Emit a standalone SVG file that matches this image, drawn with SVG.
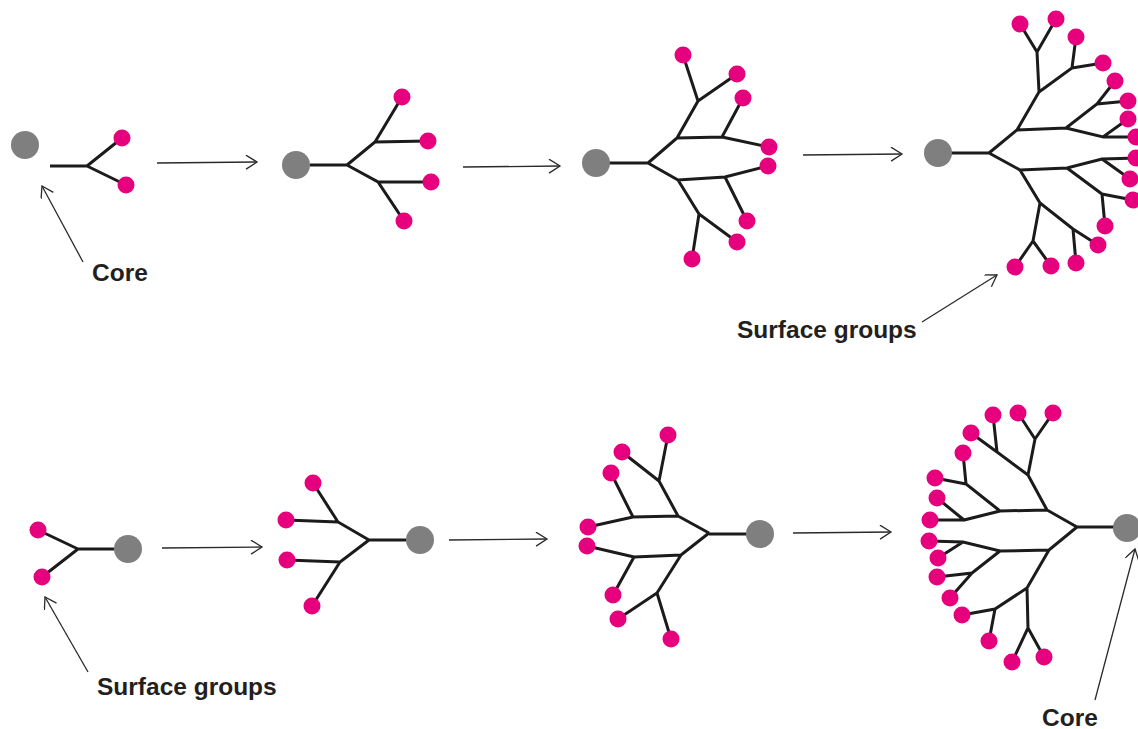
<svg xmlns="http://www.w3.org/2000/svg" width="1138" height="729" viewBox="0 0 1138 729">
  <style>
    .bond { fill: none; stroke: #1c1a1b; stroke-width: 3; stroke-linejoin: miter; stroke-linecap: butt; }
    .core { fill: #7f7f80; }
    .end { fill: #e6007e; }
    .arrow { fill: none; stroke: #2a2a2a; stroke-width: 1.3; marker-end: url(#head); }
    .label { font-family: "Liberation Sans", Arial, Helvetica, sans-serif; font-weight: bold; font-size: 24.5px; fill: #231f20; }
  </style>
  <defs>
    <marker id="head" markerUnits="userSpaceOnUse" markerWidth="16" markerHeight="16" refX="12" refY="7" orient="auto">
      <path d="M1,0 L12,7 L1,14" fill="none" stroke="#2a2a2a" stroke-width="1.3"/>
    </marker>
  </defs>
  <rect width="1138" height="729" fill="#ffffff"/>

  <!-- divergent growth: core outward -->
  <g id="divergent-g1">
    <path class="bond" d="M50,166 H87 M87,166 L122,138 M87,166 L126,185"/>
    <circle class="core" cx="25" cy="145" r="14"/>
    <circle class="end" cx="122" cy="138" r="8.5"/>
    <circle class="end" cx="126" cy="185" r="8.5"/>
  </g>

  <g id="divergent-g2">
    <path class="bond" d="M310,165 H347 M347,165 L375,142 L402,97 M375,142 L428,141 M347,165 L378,182 L404,221 M378,182 L431,182"/>
    <circle class="core" cx="296" cy="165" r="14"/>
    <circle class="end" cx="402" cy="97" r="8.5"/>
    <circle class="end" cx="428" cy="141" r="8.5"/>
    <circle class="end" cx="431" cy="182" r="8.5"/>
    <circle class="end" cx="404" cy="221" r="8.5"/>
  </g>

  <g id="divergent-g3">
    <path class="bond" d="M596,163 H648 M648,163 L677,138 L698,101 L683,55 M698,101 L737,74 M677,138 L722,137 L743,98 M722,137 L769,147 M648,163 L678,180 L725,177 L768,166 M725,177 L747,221 M678,180 L699,214 L737,242 M699,214 L692,259"/>
    <circle class="core" cx="596" cy="163" r="14"/>
    <circle class="end" cx="683" cy="55" r="8.5"/>
    <circle class="end" cx="737" cy="74" r="8.5"/>
    <circle class="end" cx="743" cy="98" r="8.5"/>
    <circle class="end" cx="769" cy="147" r="8.5"/>
    <circle class="end" cx="768" cy="166" r="8.5"/>
    <circle class="end" cx="747" cy="221" r="8.5"/>
    <circle class="end" cx="737" cy="242" r="8.5"/>
    <circle class="end" cx="692" cy="259" r="8.5"/>
  </g>

  <g id="divergent-g4">
    <path class="bond" d="M938,153 H989 M989,153 L1017,130 L1039,92 L1037,52 L1020,24 M1037,52 L1056,19 M1039,92 L1072,68 L1076,37 M1072,68 L1103,63 M1017,130 L1066,128 L1097,104 L1115,81 M1097,104 L1128,101 M1066,128 L1103,137 L1128,119 M1103,137 L1138,137 M989,153 L1020,170 L1067,168 L1102,159 L1138,158 M1102,159 L1130,179 M1067,168 L1102,194 L1133,200 M1102,194 L1105,226 M1020,170 L1040,203 L1073,229 L1098,245 M1073,229 L1076,263 M1040,203 L1033,241 L1015,267 M1033,241 L1051,266"/>
    <circle class="core" cx="938" cy="153" r="14"/>
    <circle class="end" cx="1020" cy="24" r="8.5"/>
    <circle class="end" cx="1056" cy="19" r="8.5"/>
    <circle class="end" cx="1076" cy="37" r="8.5"/>
    <circle class="end" cx="1103" cy="63" r="8.5"/>
    <circle class="end" cx="1115" cy="81" r="8.5"/>
    <circle class="end" cx="1128" cy="101" r="8.5"/>
    <circle class="end" cx="1128" cy="119" r="8.5"/>
    <circle class="end" cx="1136" cy="137" r="8.5"/>
    <circle class="end" cx="1136" cy="158" r="8.5"/>
    <circle class="end" cx="1130" cy="179" r="8.5"/>
    <circle class="end" cx="1133" cy="200" r="8.5"/>
    <circle class="end" cx="1105" cy="226" r="8.5"/>
    <circle class="end" cx="1098" cy="245" r="8.5"/>
    <circle class="end" cx="1076" cy="263" r="8.5"/>
    <circle class="end" cx="1051" cy="266" r="8.5"/>
    <circle class="end" cx="1015" cy="267" r="8.5"/>
  </g>

  <!-- convergent growth: surface inward -->
  <g id="convergent-g1">
    <path class="bond" d="M114,549 H78 M78,549 L38,530 M78,549 L42,577"/>
    <circle class="core" cx="128" cy="549" r="14"/>
    <circle class="end" cx="38" cy="530" r="8.5"/>
    <circle class="end" cx="42" cy="577" r="8.5"/>
  </g>

  <g id="convergent-g2">
    <path class="bond" d="M406,540 H369 M369,540 L338,522 L313,483 M338,522 L286,520 M369,540 L340,562 L312,606 M340,562 L287,560"/>
    <circle class="core" cx="420" cy="540" r="14"/>
    <circle class="end" cx="313" cy="483" r="8.5"/>
    <circle class="end" cx="286" cy="520" r="8.5"/>
    <circle class="end" cx="287" cy="560" r="8.5"/>
    <circle class="end" cx="312" cy="606" r="8.5"/>
  </g>

  <g id="convergent-g3">
    <path class="bond" d="M760,534 H709 M709,533 L678,516 L659,481 L668,435 M659,481 L622,452 M678,516 L633,517 L611,473 M633,517 L588,527 M709,533 L681,555 L634,557 L587,546 M634,557 L613,595 M681,555 L657,593 L618,619 M657,593 L671,639"/>
    <circle class="core" cx="760" cy="534" r="14"/>
    <circle class="end" cx="668" cy="435" r="8.5"/>
    <circle class="end" cx="622" cy="452" r="8.5"/>
    <circle class="end" cx="611" cy="473" r="8.5"/>
    <circle class="end" cx="588" cy="527" r="8.5"/>
    <circle class="end" cx="587" cy="546" r="8.5"/>
    <circle class="end" cx="613" cy="595" r="8.5"/>
    <circle class="end" cx="618" cy="619" r="8.5"/>
    <circle class="end" cx="671" cy="639" r="8.5"/>
  </g>

  <g id="convergent-g4">
    <path class="bond" d="M1127,527 H1077 M1077,527 L1047,510 L1028,475 L1035,439 L1018,413 M1035,439 L1053,413 M1028,475 L997,452 L993,415 M997,452 L971,433 M1047,510 L1000,511 L966,484 L963,453 M966,484 L935,478 M1000,511 L964,520 L937,498 M964,520 L930,520 M1077,527 L1049,550 L1000,551 L963,542 L929,541 M963,542 L938,558 M1000,551 L972,573 L937,577 M972,573 L950,598 M1049,550 L1027,588 L995,609 L962,615 M995,609 L989,641 M1027,588 L1028,628 L1012,662 M1028,628 L1044,657"/>
    <circle class="core" cx="1127" cy="528" r="14"/>
    <circle class="end" cx="1018" cy="413" r="8.5"/>
    <circle class="end" cx="1053" cy="413" r="8.5"/>
    <circle class="end" cx="993" cy="415" r="8.5"/>
    <circle class="end" cx="971" cy="433" r="8.5"/>
    <circle class="end" cx="963" cy="453" r="8.5"/>
    <circle class="end" cx="935" cy="478" r="8.5"/>
    <circle class="end" cx="937" cy="498" r="8.5"/>
    <circle class="end" cx="930" cy="520" r="8.5"/>
    <circle class="end" cx="929" cy="541" r="8.5"/>
    <circle class="end" cx="938" cy="558" r="8.5"/>
    <circle class="end" cx="937" cy="577" r="8.5"/>
    <circle class="end" cx="950" cy="598" r="8.5"/>
    <circle class="end" cx="962" cy="615" r="8.5"/>
    <circle class="end" cx="989" cy="641" r="8.5"/>
    <circle class="end" cx="1012" cy="662" r="8.5"/>
    <circle class="end" cx="1044" cy="657" r="8.5"/>
  </g>

  <!-- step arrows and label pointers -->
  <g id="connectors">
    <line class="arrow" x1="157" y1="163" x2="257" y2="162"/>
    <line class="arrow" x1="463" y1="167" x2="560" y2="166"/>
    <line class="arrow" x1="803" y1="155" x2="902" y2="154"/>
    <line class="arrow" x1="162" y1="548" x2="262" y2="547"/>
    <line class="arrow" x1="449" y1="540" x2="547" y2="539"/>
    <line class="arrow" x1="793" y1="533" x2="891" y2="532"/>
    <line class="arrow" x1="83" y1="262" x2="42" y2="186"/>
    <line class="arrow" x1="922" y1="322" x2="997" y2="275"/>
    <line class="arrow" x1="88" y1="672" x2="45" y2="597"/>
    <line class="arrow" x1="1095" y1="700" x2="1135" y2="549"/>
  </g>

  <g id="labels">
    <text class="label" x="92" y="281">Core</text>
    <text class="label" x="737" y="338">Surface groups</text>
    <text class="label" x="97" y="695">Surface groups</text>
    <text class="label" x="1042" y="726">Core</text>
  </g>
</svg>
